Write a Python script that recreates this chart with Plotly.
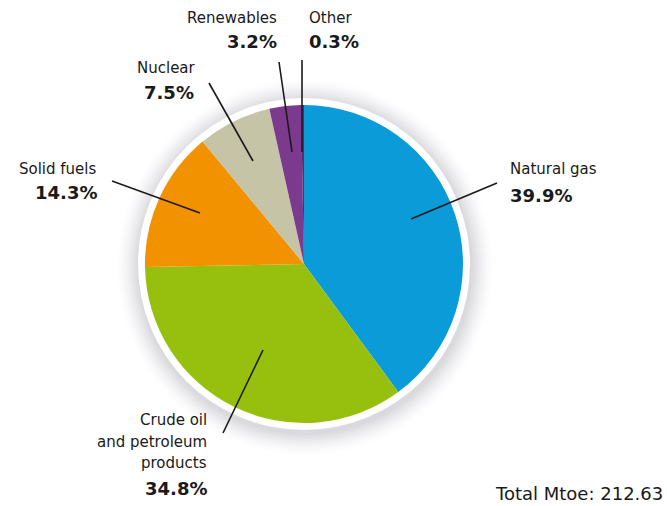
import plotly.graph_objects as go

categories = ["Natural gas", "Crude oil and petroleum products", "Solid fuels", "Nuclear", "Renewables", "Other"]
shares = [39.9, 34.8, 14.3, 7.5, 3.2, 0.3]
colors = ["#0b9bd8", "#97bf0d", "#f39200", "#c6c4a6", "#7c3a8e", "#5e2a6e"]
label_names = ["Natural gas", ["Crude oil", "and petroleum", "products"], "Solid fuels", "Nuclear", "Renewables", "Other"]
total_text = "Total Mtoe: 212.63"

W, H = 667, 506
cx, cy, R = 304, 264, 159

fig = go.Figure()
fig.add_trace(go.Pie(
    labels=categories, values=shares, sort=False, direction="clockwise", rotation=0,
    marker=dict(colors=colors, line=dict(width=0)), textinfo="none", hoverinfo="skip",
    showlegend=False,
    domain=dict(x=[(cx - R) / W, (cx + R) / W], y=[(H - cy - R) / H, (H - cy + R) / H]),
))

shapes = []
# soft shadow
for r in range(188, 166, -2):
    op = 0.008 + (188 - r) * 0.0018
    shapes.append(dict(type="circle", xref="x", yref="y", layer="below",
                       x0=cx - r + 1, x1=cx + r + 1, y0=cy - r + 3, y1=cy + r + 3,
                       fillcolor=f"rgba(120,120,128,{op:.3f})", line=dict(width=0)))
shapes.append(dict(type="circle", xref="x", yref="y", layer="below",
                   x0=cx - 166, x1=cx + 166, y0=cy - 166, y1=cy + 166,
                   fillcolor="white", line=dict(width=0)))

# leader lines
leaders = [
    (411, 219, 497, 183),
    (263, 350, 223, 433),
    (200, 213, 112, 181),
    (253, 161, 209, 83),
    (292, 152, 279, 62),
    (302, 152, 302, 60),
]
for x0, y0, x1, y1 in leaders:
    shapes.append(dict(type="line", xref="x", yref="y", layer="above",
                       x0=x0, y0=y0, x1=x1, y1=y1, line=dict(color="#1a1a1a", width=1.6)))

FONT = "DejaVu Sans"
ann = []
def name(x, y, t, anchor):
    ann.append(dict(x=x, y=y, xref="x", yref="y", text=t, showarrow=False, xanchor=anchor,
                    yanchor="middle", font=dict(family=FONT, size=15, color="#1a1a1a")))
def pct(x, y, v, anchor):
    ann.append(dict(x=x, y=y, xref="x", yref="y", text=f"<b>{v}%</b>", showarrow=False, xanchor=anchor,
                    yanchor="middle", font=dict(family=FONT, size=18, color="#1a1a1a")))

# Natural gas
name(508, 169, label_names[0], "left"); pct(508, 195, shares[0], "left")
# Crude
for t, yy in zip(label_names[1], [420, 442, 463]):
    name(209, yy, t, "right")
pct(209, 488, shares[1], "right")
# Solid fuels
name(99, 169, label_names[2], "right"); pct(99, 192, shares[2], "right")
# Nuclear
name(166, 68, label_names[3], "center"); pct(169, 92, shares[3], "center")
# Renewables
name(279, 18, label_names[4], "right"); pct(279, 41, shares[4], "right")
# Other
name(307, 18, label_names[5], "left"); pct(307, 41, shares[5], "left")
# total
ann.append(dict(x=665, y=493, xref="x", yref="y", text=total_text, showarrow=False, xanchor="right",
                yanchor="middle", font=dict(family=FONT, size=18, color="#1a1a1a")))

fig.update_layout(
    width=W, height=H, margin=dict(l=0, r=0, t=0, b=0),
    paper_bgcolor="white", plot_bgcolor="white",
    xaxis=dict(range=[0, W], visible=False, fixedrange=True),
    yaxis=dict(range=[H, 0], visible=False, fixedrange=True),
    shapes=shapes, annotations=ann, showlegend=False,
)
fig.write_html("out.html")
